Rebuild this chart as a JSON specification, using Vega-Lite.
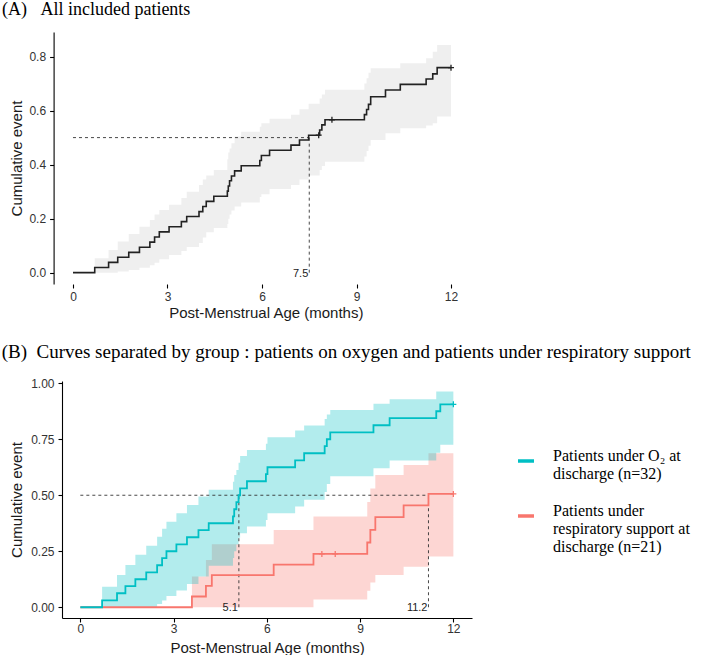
{
  "$schema": "https://vega.github.io/schema/vega-lite/v6.json",
  "padding": {"left": 1, "top": 1, "right": 0, "bottom": 0},
  "datasets": {
    "kmA": [
      {"t": 0, "est": 0, "lo": 0, "hi": 0},
      {"t": 0.69, "est": 0.019, "lo": 0, "hi": 0.053},
      {"t": 1.13, "est": 0.038, "lo": 0, "hi": 0.084},
      {"t": 1.42, "est": 0.057, "lo": 0.004, "hi": 0.115},
      {"t": 1.77, "est": 0.075, "lo": 0.01, "hi": 0.143},
      {"t": 2.11, "est": 0.094, "lo": 0.018, "hi": 0.17},
      {"t": 2.44, "est": 0.113, "lo": 0.027, "hi": 0.195},
      {"t": 2.59, "est": 0.132, "lo": 0.037, "hi": 0.215},
      {"t": 2.74, "est": 0.151, "lo": 0.05, "hi": 0.232},
      {"t": 3.05, "est": 0.17, "lo": 0.065, "hi": 0.251},
      {"t": 3.44, "est": 0.189, "lo": 0.08, "hi": 0.276},
      {"t": 3.61, "est": 0.208, "lo": 0.095, "hi": 0.3},
      {"t": 4.0, "est": 0.226, "lo": 0.11, "hi": 0.325},
      {"t": 4.12, "est": 0.245, "lo": 0.13, "hi": 0.345},
      {"t": 4.23, "est": 0.264, "lo": 0.15, "hi": 0.36},
      {"t": 4.47, "est": 0.283, "lo": 0.165, "hi": 0.38},
      {"t": 4.9, "est": 0.302, "lo": 0.18, "hi": 0.42},
      {"t": 4.93, "est": 0.321, "lo": 0.2, "hi": 0.445},
      {"t": 4.97, "est": 0.34, "lo": 0.215, "hi": 0.46},
      {"t": 5.03, "est": 0.358, "lo": 0.23, "hi": 0.479},
      {"t": 5.13, "est": 0.377, "lo": 0.245, "hi": 0.504},
      {"t": 5.34, "est": 0.396, "lo": 0.26, "hi": 0.522},
      {"t": 5.93, "est": 0.415, "lo": 0.28, "hi": 0.54},
      {"t": 5.98, "est": 0.434, "lo": 0.29, "hi": 0.553},
      {"t": 6.24, "est": 0.453, "lo": 0.31, "hi": 0.57},
      {"t": 6.92, "est": 0.472, "lo": 0.325, "hi": 0.585},
      {"t": 7.19, "est": 0.491, "lo": 0.345, "hi": 0.605},
      {"t": 7.48, "est": 0.509, "lo": 0.36, "hi": 0.625},
      {"t": 7.83, "est": 0.528, "lo": 0.38, "hi": 0.645},
      {"t": 7.9, "est": 0.547, "lo": 0.395, "hi": 0.66},
      {"t": 8.0, "est": 0.566, "lo": 0.411, "hi": 0.677},
      {"t": 9.25, "est": 0.585, "lo": 0.43, "hi": 0.7},
      {"t": 9.32, "est": 0.604, "lo": 0.45, "hi": 0.72},
      {"t": 9.38, "est": 0.623, "lo": 0.47, "hi": 0.74},
      {"t": 9.45, "est": 0.651, "lo": 0.491, "hi": 0.757},
      {"t": 9.92, "est": 0.676, "lo": 0.516, "hi": 0.757},
      {"t": 10.39, "est": 0.697, "lo": 0.535, "hi": 0.775},
      {"t": 11.21, "est": 0.717, "lo": 0.545, "hi": 0.794},
      {"t": 11.42, "est": 0.736, "lo": 0.553, "hi": 0.818},
      {"t": 11.56, "est": 0.759, "lo": 0.578, "hi": 0.843},
      {"t": 12, "est": 0.759, "lo": 0.578, "hi": 0.843}
    ],
    "censA": [
      {"t": 7.8, "est": 0.509},
      {"t": 8.22, "est": 0.566},
      {"t": 12, "est": 0.759}
    ],
    "refA": [
      {"x": 0, "x2": 7.5, "y": 0.5, "y2": 0.5},
      {"x": 7.5, "x2": 7.5, "y": 0, "y2": 0.5}
    ],
    "medA": [{"x": 7.5, "y": 0, "label": "7.5"}],
    "kmO2": [
      {"t": 0, "est": 0, "lo": 0, "hi": 0},
      {"t": 0.7, "est": 0.031, "lo": 0, "hi": 0.092},
      {"t": 1.18, "est": 0.0625, "lo": 0, "hi": 0.144},
      {"t": 1.45, "est": 0.094, "lo": 0, "hi": 0.189},
      {"t": 1.77, "est": 0.125, "lo": 0, "hi": 0.234},
      {"t": 2.12, "est": 0.156, "lo": 0, "hi": 0.275},
      {"t": 2.47, "est": 0.1875, "lo": 0.015, "hi": 0.315},
      {"t": 2.63, "est": 0.219, "lo": 0.03, "hi": 0.35},
      {"t": 2.77, "est": 0.25, "lo": 0.05, "hi": 0.382},
      {"t": 3.09, "est": 0.281, "lo": 0.075, "hi": 0.42},
      {"t": 3.43, "est": 0.3125, "lo": 0.104, "hi": 0.457},
      {"t": 3.8, "est": 0.344, "lo": 0.137, "hi": 0.494},
      {"t": 4.13, "est": 0.375, "lo": 0.185, "hi": 0.524},
      {"t": 4.91, "est": 0.406, "lo": 0.22, "hi": 0.56},
      {"t": 4.95, "est": 0.4375, "lo": 0.25, "hi": 0.59},
      {"t": 5.02, "est": 0.469, "lo": 0.28, "hi": 0.613},
      {"t": 5.09, "est": 0.5, "lo": 0.31, "hi": 0.645},
      {"t": 5.14, "est": 0.531, "lo": 0.33, "hi": 0.675},
      {"t": 5.36, "est": 0.5625, "lo": 0.36, "hi": 0.702},
      {"t": 5.97, "est": 0.594, "lo": 0.39, "hi": 0.73},
      {"t": 6.02, "est": 0.625, "lo": 0.42, "hi": 0.759},
      {"t": 6.91, "est": 0.656, "lo": 0.45, "hi": 0.789},
      {"t": 7.2, "est": 0.6875, "lo": 0.48, "hi": 0.811},
      {"t": 7.86, "est": 0.719, "lo": 0.515, "hi": 0.84},
      {"t": 7.93, "est": 0.75, "lo": 0.55, "hi": 0.86},
      {"t": 8.04, "est": 0.781, "lo": 0.585, "hi": 0.881},
      {"t": 9.43, "est": 0.8125, "lo": 0.62, "hi": 0.908},
      {"t": 9.95, "est": 0.844, "lo": 0.655, "hi": 0.928},
      {"t": 11.45, "est": 0.875, "lo": 0.69, "hi": 0.963},
      {"t": 11.58, "est": 0.906, "lo": 0.725, "hi": 0.963},
      {"t": 12, "est": 0.906, "lo": 0.725, "hi": 0.963}
    ],
    "kmResp": [
      {"t": 0, "est": 0, "lo": 0, "hi": 0},
      {"t": 3.59, "est": 0.048, "lo": 0, "hi": 0.137},
      {"t": 4.04, "est": 0.095, "lo": 0, "hi": 0.211},
      {"t": 4.23, "est": 0.143, "lo": 0, "hi": 0.281},
      {"t": 6.22, "est": 0.19, "lo": 0, "hi": 0.345},
      {"t": 7.5, "est": 0.238, "lo": 0.035, "hi": 0.405},
      {"t": 9.23, "est": 0.289, "lo": 0.074, "hi": 0.47},
      {"t": 9.33, "est": 0.345, "lo": 0.11, "hi": 0.53},
      {"t": 9.49, "est": 0.402, "lo": 0.144, "hi": 0.59},
      {"t": 10.4, "est": 0.455, "lo": 0.181, "hi": 0.635},
      {"t": 11.2, "est": 0.506, "lo": 0.226, "hi": 0.687},
      {"t": 12, "est": 0.506, "lo": 0.226, "hi": 0.687}
    ],
    "censO2": [{"t": 12, "est": 0.906}],
    "censResp": [
      {"t": 7.77, "est": 0.238},
      {"t": 8.2, "est": 0.238},
      {"t": 12, "est": 0.506}
    ],
    "refB": [
      {"x": 0, "x2": 11.2, "y": 0.5, "y2": 0.5},
      {"x": 5.1, "x2": 5.1, "y": 0, "y2": 0.5},
      {"x": 11.2, "x2": 11.2, "y": 0, "y2": 0.5}
    ],
    "medB": [
      {"x": 5.1, "y": 0, "label": "5.1"},
      {"x": 11.2, "y": 0, "label": "11.2"}
    ]
  },
  "vconcat": [
    {
      "width": 407.6,
      "height": 252,
      "title": {"text": "(A)\u00a0\u00a0\u00a0All included patients", "anchor": "start", "dx": -8, "offset": 13, "font": "Liberation Serif", "fontSize": 18, "fontWeight": "normal", "color": "#000"},
      "layer": [
        {
          "data": {"name": "kmA"},
          "mark": {"type": "area", "interpolate": "step-after", "color": "#efefef"},
          "encoding": {
            "x": {"field": "t", "type": "quantitative", "scale": {"domain": [-0.349, 12.59], "nice": false, "zero": false}, "axis": {"values": [0, 3, 6, 9, 12], "title": "Post-Menstrual Age (months)", "labelPadding": 3, "domain": false}},
            "y": {"field": "lo", "type": "quantitative", "scale": {"domain": [-0.042, 0.891], "nice": false, "zero": false}, "axis": {"values": [0, 0.2, 0.4, 0.6, 0.8], "format": ".1f", "title": "Cumulative event", "titlePadding": 4, "offset": 8.4}},
            "y2": {"field": "hi"}
          }
        },
        {
          "mark": {"type": "rule", "color": "#000", "strokeWidth": 1.1},
          "encoding": {
            "x": {"datum": -0.616, "type": "quantitative"},
            "x2": {"datum": 12.59},
            "y": {"datum": -0.042, "type": "quantitative"}
          }
        },
        {
          "data": {"name": "refA"},
          "mark": {"type": "rule", "strokeDash": [3, 3], "color": "#333", "strokeWidth": 0.9},
          "encoding": {
            "x": {"field": "x", "type": "quantitative"},
            "x2": {"field": "x2"},
            "y": {"field": "y", "type": "quantitative"},
            "y2": {"field": "y2"}
          }
        },
        {
          "data": {"name": "kmA"},
          "mark": {"type": "line", "interpolate": "step-after", "color": "#222", "strokeWidth": 1.6},
          "encoding": {
            "x": {"field": "t", "type": "quantitative"},
            "y": {"field": "est", "type": "quantitative"}
          }
        },
        {
          "data": {"name": "censA"},
          "mark": {"type": "point", "shape": "M-1,0L1,0M0,-1L0,1", "size": 36, "filled": false, "color": "#222", "strokeWidth": 1.3, "opacity": 1},
          "encoding": {
            "x": {"field": "t", "type": "quantitative"},
            "y": {"field": "est", "type": "quantitative"}
          }
        },
        {
          "data": {"name": "medA"},
          "mark": {"type": "text", "align": "right", "baseline": "middle", "dx": -1, "dy": 1, "font": "Liberation Sans", "fontSize": 11, "color": "#222"},
          "encoding": {
            "x": {"field": "x", "type": "quantitative"},
            "y": {"field": "y", "type": "quantitative"},
            "text": {"field": "label"}
          }
        }
      ]
    },
    {
      "width": 410,
      "height": 237,
      "title": {"text": "(B)\u00a0\u00a0Curves separated by group : patients on oxygen and patients under respiratory support", "anchor": "start", "dx": -8, "offset": 15, "font": "Liberation Serif", "fontSize": 19, "fontWeight": "normal", "color": "#000"},
      "layer": [
        {
          "data": {"name": "kmResp"},
          "mark": {"type": "area", "interpolate": "step-after", "color": "#F8766D", "opacity": 0.3},
          "encoding": {
            "x": {"field": "t", "type": "quantitative", "scale": {"domain": [-0.59, 12.6], "nice": false, "zero": false}, "axis": {"values": [0, 3, 6, 9, 12], "title": "Post-Menstrual Age (months)", "titlePadding": 6}},
            "y": {"field": "lo", "type": "quantitative", "scale": {"domain": [-0.048, 1.01], "nice": false, "zero": false}, "axis": {"values": [0, 0.25, 0.5, 0.75, 1], "format": ".2f", "title": "Cumulative event", "titlePadding": 6}},
            "y2": {"field": "hi"}
          }
        },
        {
          "data": {"name": "kmO2"},
          "mark": {"type": "area", "interpolate": "step-after", "color": "#00BFC4", "opacity": 0.3},
          "encoding": {
            "x": {"field": "t", "type": "quantitative"},
            "y": {"field": "lo", "type": "quantitative"},
            "y2": {"field": "hi"}
          }
        },
        {
          "data": {"name": "refB"},
          "mark": {"type": "rule", "strokeDash": [3, 3], "color": "#333", "strokeWidth": 0.9},
          "encoding": {
            "x": {"field": "x", "type": "quantitative"},
            "x2": {"field": "x2"},
            "y": {"field": "y", "type": "quantitative"},
            "y2": {"field": "y2"}
          }
        },
        {
          "data": {"name": "kmResp"},
          "mark": {"type": "line", "interpolate": "step-after", "strokeWidth": 1.8},
          "encoding": {
            "x": {"field": "t", "type": "quantitative"},
            "y": {"field": "est", "type": "quantitative"},
            "color": {
              "datum": "Patients under|respiratory support at|discharge (n=21)",
              "type": "nominal",
              "scale": {"domain": ["Patients under O₂ at|discharge (n=32)", "Patients under|respiratory support at|discharge (n=21)"], "range": ["#00BFC4", "#F8766D"]},
              "legend": {
                "orient": "none",
                "legendX": 454,
                "legendY": 70,
                "title": null,
                "symbolType": "stroke",
                "symbolStrokeWidth": 3.5,
                "symbolSize": 256,
                "labelFont": "Liberation Serif",
                "labelFontSize": 16,
                "labelColor": "#000",
                "labelLimit": 300,
                "labelOffset": 17,
                "labelBaseline": "alphabetic",
                "rowPadding": 21,
                "labelExpr": "split(datum.label, '|')"
              }
            }
          }
        },
        {
          "data": {"name": "kmO2"},
          "mark": {"type": "line", "interpolate": "step-after", "strokeWidth": 1.8},
          "encoding": {
            "x": {"field": "t", "type": "quantitative"},
            "y": {"field": "est", "type": "quantitative"},
            "color": {"datum": "Patients under O₂ at|discharge (n=32)", "type": "nominal"}
          }
        },
        {
          "data": {"name": "censResp"},
          "mark": {"type": "point", "shape": "M-1,0L1,0M0,-1L0,1", "size": 36, "filled": false, "color": "#F8766D", "strokeWidth": 1.3, "opacity": 1},
          "encoding": {
            "x": {"field": "t", "type": "quantitative"},
            "y": {"field": "est", "type": "quantitative"}
          }
        },
        {
          "data": {"name": "censO2"},
          "mark": {"type": "point", "shape": "M-1,0L1,0M0,-1L0,1", "size": 36, "filled": false, "color": "#00BFC4", "strokeWidth": 1.3, "opacity": 1},
          "encoding": {
            "x": {"field": "t", "type": "quantitative"},
            "y": {"field": "est", "type": "quantitative"}
          }
        },
        {
          "data": {"name": "medB"},
          "mark": {"type": "text", "align": "right", "baseline": "middle", "dx": -1, "dy": 1, "font": "Liberation Sans", "fontSize": 11, "color": "#222"},
          "encoding": {
            "x": {"field": "x", "type": "quantitative"},
            "y": {"field": "y", "type": "quantitative"},
            "text": {"field": "label"}
          }
        }
      ]
    }
  ],
  "spacing": 23,
  "resolve": {"scale": {"color": "independent"}, "legend": {"color": "independent"}},
  "config": {
    "view": {"stroke": null},
    "axis": {
      "grid": false,
      "domainColor": "#000",
      "domainWidth": 1.1,
      "tickColor": "#000",
      "tickWidth": 1.1,
      "tickSize": 4,
      "labelFont": "Liberation Sans",
      "labelFontSize": 12,
      "labelColor": "#333",
      "labelPadding": 1,
      "titleFont": "Liberation Sans",
      "titleFontSize": 15,
      "titleFontWeight": "normal",
      "titleColor": "#1a1a1a"
    },
    "axisY": {"labelPadding": 4},
    "axisX": {"titlePadding": 3}
  }
}
